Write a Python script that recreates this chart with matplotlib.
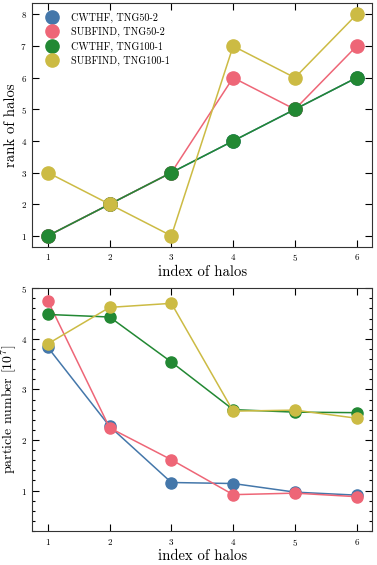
import numpy as np
import matplotlib
matplotlib.use("Agg")
import matplotlib.pyplot as plt
from matplotlib.ticker import MultipleLocator

plt.rcParams.update({
    "font.family": "serif",
    "font.serif": ["cmr10"],
    "mathtext.fontset": "cm",
    "axes.formatter.use_mathtext": True,
    "axes.unicode_minus": False,
})

halo_index = [1, 2, 3, 4, 5, 6]
labels = ["CWTHF, TNG50-2", "SUBFIND, TNG50-2", "CWTHF, TNG100-1", "SUBFIND, TNG100-1"]
colours = ["#4477AA", "#EE6677", "#228833", "#CCBB44"]

# rank of halos
rank_cwthf_50 = [1, 2, 3, 4, 5, 6]
rank_subfind_50 = [1, 2, 3, 6, 5, 7]
rank_cwthf_100 = [1, 2, 3, 4, 5, 6]
rank_subfind_100 = [3, 2, 1, 7, 6, 8]

# particle number [1e7]
npart_cwthf_50 = [3.83, 2.27, 1.16, 1.14, 0.97, 0.91]
npart_subfind_50 = [4.75, 2.24, 1.61, 0.92, 0.95, 0.88]
npart_cwthf_100 = [4.48, 4.43, 3.54, 2.60, 2.55, 2.54]
npart_subfind_100 = [3.90, 4.62, 4.70, 2.57, 2.59, 2.43]

ranks = [rank_cwthf_50, rank_subfind_50, rank_cwthf_100, rank_subfind_100]
nparts = [npart_cwthf_50, npart_subfind_50, npart_cwthf_100, npart_subfind_100]

fig = plt.figure(figsize=(3.77, 5.65), dpi=100)
ax1 = fig.add_axes([0.086, 0.563, 0.901, 0.431])
ax2 = fig.add_axes([0.086, 0.060, 0.901, 0.430])

for r, c, lab in zip(ranks, colours, labels):
    ax1.plot(halo_index, r, color=c, lw=1.1, marker="o", ms=9.5, label=lab)
for n, c in zip(nparts, colours):
    ax2.plot(halo_index, n, color=c, lw=1.1, marker="o", ms=8)

# legend with markers only
handles = [plt.Line2D([], [], ls="none", marker="o", ms=9.5, color=c) for c in colours]
ax1.legend(handles, labels, loc="upper left", frameon=False, fontsize=7.3,
           handletextpad=0.9, labelspacing=0.42, borderaxespad=0.5,
           borderpad=0.4, handlelength=2.0)

ax1.set_ylabel("rank of halos", fontsize=10.6, labelpad=1.5)
ax1.set_xlabel("index of halos", fontsize=10.6, labelpad=1.5)
ax2.set_ylabel(r"particle number [$10^7$]", fontsize=10, labelpad=1.0)
ax2.set_xlabel("index of halos", fontsize=10.6, labelpad=1.5)

ax1.set_xticks(halo_index)
ax1.set_yticks(range(1, 9))
ax2.set_xticks(halo_index)
ax2.set_yticks(range(1, 6))
ax2.set_ylim(0.2, 5.0)
ax2.yaxis.set_minor_locator(MultipleLocator(0.2))

for ax in (ax1, ax2):
    ax.tick_params(which="both", direction="in", top=True, right=True,
                   labelsize=6.5, width=0.8, pad=4)
    ax.tick_params(which="major", length=5)
    ax.tick_params(which="minor", length=2.5)
    for s in ax.spines.values():
        s.set_linewidth(0.8)
        s.set_color("#333333")

fig.savefig("out.png", dpi=100)
